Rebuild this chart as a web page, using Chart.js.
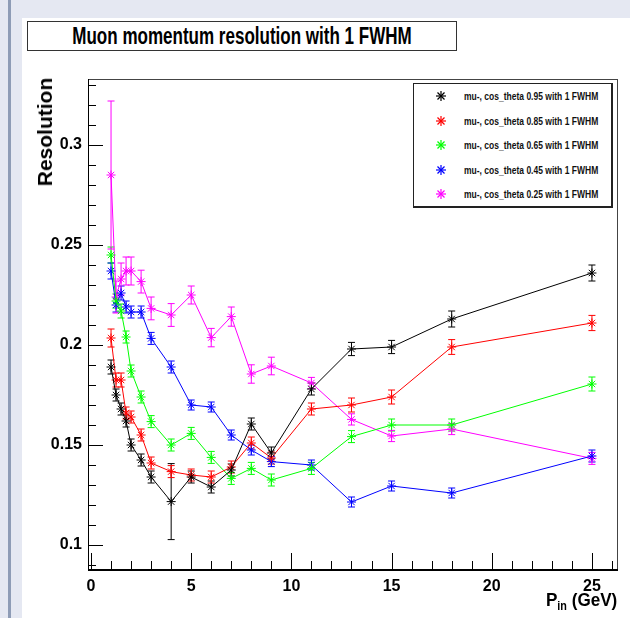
<!DOCTYPE html>
<html>
<head>
<meta charset="utf-8">
<script src="https://cdn.jsdelivr.net/npm/chart.js@4"></script>
<style>
  body { margin: 0; background: #fff; }
  #page { position: relative; width: 630px; height: 618px; overflow: hidden; background: #fff; font-family: "Liberation Sans", Arial, sans-serif; }
  .band-top { position: absolute; left: 0; top: 0; width: 630px; height: 18px; background: #e5e8f2; }
  .band-left { position: absolute; left: 0; top: 0; width: 22px; height: 618px; background: #e5e8f2; }
  .band-line { position: absolute; left: 8px; top: 0; width: 3px; height: 618px; background: #8e9cb6; }
  #chart { position: absolute; left: 0; top: 0; }
  .title-box { position: absolute; left: 27px; top: 21px; width: 428px; height: 28px; border: 1px solid #333; background: #fff; }
  .title-box span { position: absolute; left: 50%; top: 1px; font-weight: bold; font-size: 23px; white-space: nowrap; transform: translateX(-50%) scaleX(0.74); }
  .ytitle { position: absolute; left: 45px; top: 132px; font-weight: bold; font-size: 21px; white-space: nowrap; transform: translate(-50%, -50%) rotate(-90deg); }
  .xtitle { position: absolute; right: 13px; top: 589px; font-weight: bold; font-size: 19px; white-space: nowrap; transform: scaleX(0.9); transform-origin: right; }
  .xtitle sub { font-size: 12px; vertical-align: -4px; }
  .legend { position: absolute; left: 413px; top: 83px; width: 197px; height: 122px; border: 1px solid #222; border-right-width: 2px; border-bottom-width: 2px; background: #fff; }
  .legend .row { position: absolute; left: 0; height: 14px; width: 197px; }
  .legend svg { position: absolute; left: 22px; top: 2px; }
  .legend span { position: absolute; left: 50px; top: 0; font-weight: bold; font-size: 10.5px; line-height: 14px; white-space: nowrap; transform: scaleX(0.81); transform-origin: left; color: #111; }
</style>
</head>
<body>
<div id="page">
  <div class="band-top"></div>
  <div class="band-left"></div>
  <div class="band-line"></div>
  <canvas id="chart" width="630" height="618"></canvas>
  <div class="title-box"><span>Muon momentum resolution with 1 FWHM</span></div>
  <div class="ytitle">Resolution</div>
  <div class="xtitle">P<sub>in</sub> (GeV)</div>
  <div class="legend" id="legend"></div>
</div>
<script>
// momentum points (GeV)
const pIn = [1, 1.25, 1.5, 1.75, 2, 2.5, 3, 4, 5, 6, 7, 8, 9, 11, 13, 15, 18, 25];

// resolution per cos_theta bin, with errors
const res095 = [0.189, 0.175, 0.168, 0.162, 0.150, 0.1425, 0.134, 0.1217, 0.134, 0.129, 0.1375, 0.1605, 0.146, 0.178, 0.198, 0.199, 0.213, 0.236];
const err095 = [0.0035, 0.003, 0.003, 0.003, 0.003, 0.003, 0.003, 0.019, 0.003, 0.003, 0.003, 0.003, 0.003, 0.003, 0.0033, 0.0033, 0.004, 0.004];
const res085 = [0.2035, 0.1825, 0.1825, 0.166, 0.164, 0.155, 0.141, 0.1367, 0.135, 0.134, 0.139, 0.151, 0.1435, 0.168, 0.170, 0.174, 0.199, 0.211];
const err085 = [0.0045, 0.0035, 0.0035, 0.003, 0.003, 0.003, 0.003, 0.003, 0.003, 0.003, 0.003, 0.003, 0.003, 0.003, 0.0035, 0.0035, 0.0037, 0.0038];
const res065 = [0.245, 0.222, 0.217, 0.204, 0.187, 0.174, 0.1617, 0.150, 0.1558, 0.1438, 0.1333, 0.1383, 0.1325, 0.1383, 0.1542, 0.160, 0.160, 0.1805];
const err065 = [0.004, 0.0035, 0.0035, 0.003, 0.003, 0.003, 0.003, 0.003, 0.003, 0.003, 0.003, 0.003, 0.003, 0.003, 0.003, 0.003, 0.003, 0.0035];
const res045 = [0.237, 0.220, 0.226, 0.219, 0.2165, 0.2165, 0.2033, 0.189, 0.170, 0.169, 0.155, 0.1475, 0.1417, 0.140, 0.1215, 0.1295, 0.126, 0.1445];
const err045 = [0.004, 0.0035, 0.0035, 0.003, 0.003, 0.003, 0.003, 0.003, 0.0025, 0.0025, 0.0025, 0.0025, 0.0025, 0.0025, 0.0025, 0.0025, 0.0025, 0.003];
const res025 = [0.285, 0.224, 0.233, 0.237, 0.237, 0.2317, 0.2183, 0.215, 0.225, 0.2037, 0.2142, 0.1855, 0.1895, 0.181, 0.1628, 0.1545, 0.158, 0.1433];
const err025 = [0.037, 0.008, 0.008, 0.007, 0.007, 0.0057, 0.0057, 0.0057, 0.0045, 0.0046, 0.0048, 0.0046, 0.0044, 0.0028, 0.0028, 0.0028, 0.0028, 0.003];

const seriesNames = [
  'mu-, cos_theta 0.95 with 1 FWHM',
  'mu-, cos_theta 0.85 with 1 FWHM',
  'mu-, cos_theta 0.65 with 1 FWHM',
  'mu-, cos_theta 0.45 with 1 FWHM',
  'mu-, cos_theta 0.25 with 1 FWHM'
];
const seriesColors = ['#000000', '#ff0000', '#00ff00', '#0000ff', '#ff00ff'];
const seriesValues = [res095, res085, res065, res045, res025];
const seriesErrors = [err095, err085, err065, err045, err025];

// axis ticks
const xTickVals = [0, 5, 10, 15, 20, 25];
const xTickLabels = ['0', '5', '10', '15', '20', '25'];
const yTickVals = [0.1, 0.15, 0.2, 0.25, 0.3];
const yTickLabels = ['0.1', '0.15', '0.2', '0.25', '0.3'];

const tickFont = { family: '"Liberation Sans", Arial, sans-serif', size: 16, weight: 'bold' };

// vertical error bars with serifs, ROOT style
const errorBars = {
  id: 'errorBars',
  beforeDatasetsDraw(chart) {
    const ctx = chart.ctx;
    const yScale = chart.scales.y;
    const area = chart.chartArea;
    ctx.save();
    ctx.beginPath();
    ctx.rect(area.left, area.top, area.right - area.left, area.bottom - area.top);
    ctx.clip();
    chart.data.datasets.forEach((ds, i) => {
      const meta = chart.getDatasetMeta(i);
      ctx.strokeStyle = ds.borderColor;
      ctx.lineWidth = 1;
      meta.data.forEach((pt, j) => {
        const v = ds.data[j].y;
        const e = ds.errors[j];
        const yTop = yScale.getPixelForValue(v + e);
        const yBot = yScale.getPixelForValue(v - e);
        ctx.beginPath();
        ctx.moveTo(pt.x, yTop);
        ctx.lineTo(pt.x, yBot);
        ctx.moveTo(pt.x - 3.5, yTop);
        ctx.lineTo(pt.x + 3.5, yTop);
        ctx.moveTo(pt.x - 3.5, yBot);
        ctx.lineTo(pt.x + 3.5, yBot);
        ctx.stroke();
      });
    });
    ctx.restore();
  }
};

// frame and inward ticks
const rootFrame = {
  id: 'rootFrame',
  afterDraw(chart) {
    const ctx = chart.ctx;
    const a = chart.chartArea;
    const xs = chart.scales.x;
    const ys = chart.scales.y;
    ctx.save();
    ctx.strokeStyle = '#444';
    ctx.lineWidth = 1;
    ctx.strokeRect(a.left + 0.5, a.top + 0.5, a.right - a.left, a.bottom - a.top);
    ctx.strokeStyle = '#000';
    ctx.beginPath();
    ctx.moveTo(a.left + 0.5, a.top);
    ctx.lineTo(a.left + 0.5, a.bottom);
    ctx.stroke();
    ctx.lineWidth = 2;
    ctx.beginPath();
    ctx.moveTo(a.left, a.bottom);
    ctx.lineTo(a.right + 1, a.bottom);
    ctx.stroke();

    ctx.lineWidth = 1;
    ctx.beginPath();
    for (let k = 0; k <= 26; k++) {
      const px = Math.round(xs.getPixelForValue(k)) + 0.5;
      const len = k % 5 === 0 ? 17 : 9;
      ctx.moveTo(px, a.bottom);
      ctx.lineTo(px, a.bottom - len);
    }
    for (let k = 9; k <= 33; k++) {
      const py = Math.round(ys.getPixelForValue(k / 100)) + 0.5;
      const len = k % 5 === 0 ? 15 : 8;
      ctx.moveTo(a.left, py);
      ctx.lineTo(a.left + len, py);
    }
    ctx.stroke();
    ctx.restore();
  }
};

const datasets = seriesValues.map((vals, i) => ({
  label: seriesNames[i],
  data: pIn.map((p, j) => ({ x: p, y: vals[j] })),
  errors: seriesErrors[i],
  showLine: true,
  borderColor: seriesColors[i],
  backgroundColor: seriesColors[i],
  borderWidth: 1,
  pointStyle: 'star',
  pointRadius: 4.5,
  pointBorderWidth: 1,
  tension: 0
}));

new Chart(document.getElementById('chart').getContext('2d'), {
  type: 'scatter',
  data: { datasets: datasets },
  options: {
    responsive: false,
    animation: false,
    layout: { padding: { left: 0, top: 79, right: 13, bottom: 0 } },
    plugins: { legend: { display: false }, tooltip: { enabled: false } },
    scales: {
      x: {
        type: 'linear',
        min: -0.15,
        max: 26.25,
        grid: { display: false, drawTicks: false },
        border: { display: false },
        afterBuildTicks: s => { s.ticks = xTickVals.map(v => ({ value: v })); },
        afterFit: s => { s.height = 48; },
        ticks: {
          color: '#000',
          font: tickFont,
          padding: 7,
          maxRotation: 0,
          autoSkip: false,
          callback: v => xTickLabels[xTickVals.indexOf(v)]
        }
      },
      y: {
        type: 'linear',
        min: 0.0875,
        max: 0.333,
        grid: { display: false, drawTicks: false },
        border: { display: false },
        afterBuildTicks: s => { s.ticks = yTickVals.map(v => ({ value: v })); },
        afterFit: s => { s.width = 88; },
        ticks: {
          color: '#000',
          font: tickFont,
          padding: 6,
          autoSkip: false,
          callback: v => yTickLabels[yTickVals.indexOf(v)]
        }
      }
    }
  },
  plugins: [errorBars, rootFrame]
});

// legend box
const legend = document.getElementById('legend');
seriesNames.forEach((name, i) => {
  const row = document.createElement('div');
  row.className = 'row';
  row.style.top = (5 + i * 24.5) + 'px';
  const c = seriesColors[i];
  row.innerHTML =
    '<svg width="10" height="10" viewBox="0 0 10 10">' +
    '<g stroke="' + c + '" stroke-width="1.2">' +
    '<line x1="5" y1="0" x2="5" y2="10"/><line x1="0" y1="5" x2="10" y2="5"/>' +
    '<line x1="1.5" y1="1.5" x2="8.5" y2="8.5"/><line x1="8.5" y1="1.5" x2="1.5" y2="8.5"/>' +
    '</g></svg><span>' + name + '</span>';
  legend.appendChild(row);
});
</script>
</body>
</html>
